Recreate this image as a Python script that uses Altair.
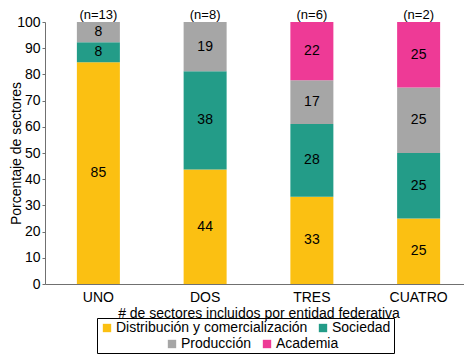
import altair as alt
import pandas as pd

categorias = ["UNO", "DOS", "TRES", "CUATRO"]
n_labels = ["(n=13)", "(n=8)", "(n=6)", "(n=2)"]
sectores = ["Distribución y comercialización", "Sociedad", "Producción", "Academia"]
colores = ["#FBC012", "#239C88", "#A6A6A6", "#EE3A96"]
distribucion = [84.6, 43.75, 33.3, 25]
sociedad = [7.7, 37.5, 27.8, 25]
produccion = [7.7, 18.75, 16.7, 25]
academia = [0, 0, 22.2, 25]
y_ticks = [0, 10, 20, 30, 40, 50, 60, 70, 80, 90, 100]

series = [distribucion, sociedad, produccion, academia]
rows = []
for i, cat in enumerate(categorias):
    base = 0.0
    for j, sec in enumerate(sectores):
        v = series[j][i]
        if v <= 0:
            continue
        rows.append({
            "cat": cat, "sector": sec, "orden": j, "valor": v,
            "y0": base, "y1": base + v, "mid": base + v / 2,
            "label": str(int(v + 0.5)),
        })
        base += v
df = pd.DataFrame(rows)
df_a = df[df["sector"].isin(sectores[:2])]
df_b = df[df["sector"].isin(sectores[2:])]
# text layers use the same y field name so the shared axis merges cleanly
df_lab = pd.DataFrame({"cat": df["cat"], "yv": df["mid"], "label": df["label"]})
df_n = pd.DataFrame({"cat": categorias, "yv": [100] * 4, "label": n_labels})
df_a = df_a.rename(columns={"y0": "yv"})
df_b = df_b.rename(columns={"y0": "yv"})

FONT = "Liberation Sans"
xscale = alt.Scale(domain=categorias, range=[0, 427], paddingInner=0, paddingOuter=0)
xaxis = alt.Axis(labelAngle=0, ticks=False, labelPadding=6, titlePadding=2)
XTITLE = "# de sectores incluidos por entidad federativa"
yscale = alt.Scale(domain=[0, 100], nice=False)
yaxis = alt.Axis(values=y_ticks, tickSize=3, labelPadding=2, labelOverlap=False,
                 titleX=-22, titleY=131, titleBaseline="bottom", grid=False)
YTITLE = "Porcentaje de sectores"


def xe():
    return alt.X("cat:N", scale=xscale, sort=categorias, title=XTITLE, axis=xaxis)


def ye():
    return alt.Y("yv:Q", scale=yscale, title=YTITLE, axis=yaxis)


common_legend = dict(orient="none", direction="horizontal", symbolType="square",
                     symbolSize=70, symbolStrokeWidth=0, labelFontSize=14,
                     labelFont=FONT, labelColor="black", labelLimit=400,
                     columnPadding=8, labelOffset=2)

bars_a = alt.Chart(df_a).mark_bar(size=43).encode(
    x=xe(), y=ye(), y2="y1:Q",
    color=alt.Color("sector:N",
                    scale=alt.Scale(domain=sectores[:2], range=colores[:2]),
                    legend=alt.Legend(title="\u00a0", titleOrient="bottom", titleFontSize=14,
                                      titlePadding=1, strokeColor="black", padding=3,
                                      legendX=52, legendY=296, **common_legend)),
)
bars_b = alt.Chart(df_b).mark_bar(size=43).encode(
    x=xe(), y=ye(), y2="y1:Q",
    color=alt.Color("sector:N",
                    scale=alt.Scale(domain=sectores[2:], range=colores[2:]),
                    legend=alt.Legend(title=None, padding=0,
                                      legendX=120, legendY=315, **common_legend)),
)

labels = alt.Chart(df_lab).mark_text(fontSize=14, font=FONT, color="black",
                                     baseline="middle").encode(
    x=xe(), y=ye(), text="label:N",
)

ntext = alt.Chart(df_n).mark_text(fontSize=13, font=FONT, color="black",
                                  baseline="alphabetic", dy=-3).encode(
    x=xe(), y=ye(), text="label:N",
)

chart = alt.layer(bars_a, bars_b, labels, ntext).resolve_scale(
    color="independent"
).properties(
    width=419, height=262,
    autosize=alt.AutoSizeParams(type="none"),
    padding={"left": 37, "top": 14, "right": 0, "bottom": 71},
).configure_view(stroke=None).configure_axis(
    labelFont=FONT, titleFont=FONT, labelFontSize=14, titleFontSize=14,
    titleFontWeight="normal", labelColor="black", titleColor="black",
    domainColor="#707070", tickColor="#707070",
)

chart.save("out.html", embed_options={"renderer": "svg", "actions": False})
